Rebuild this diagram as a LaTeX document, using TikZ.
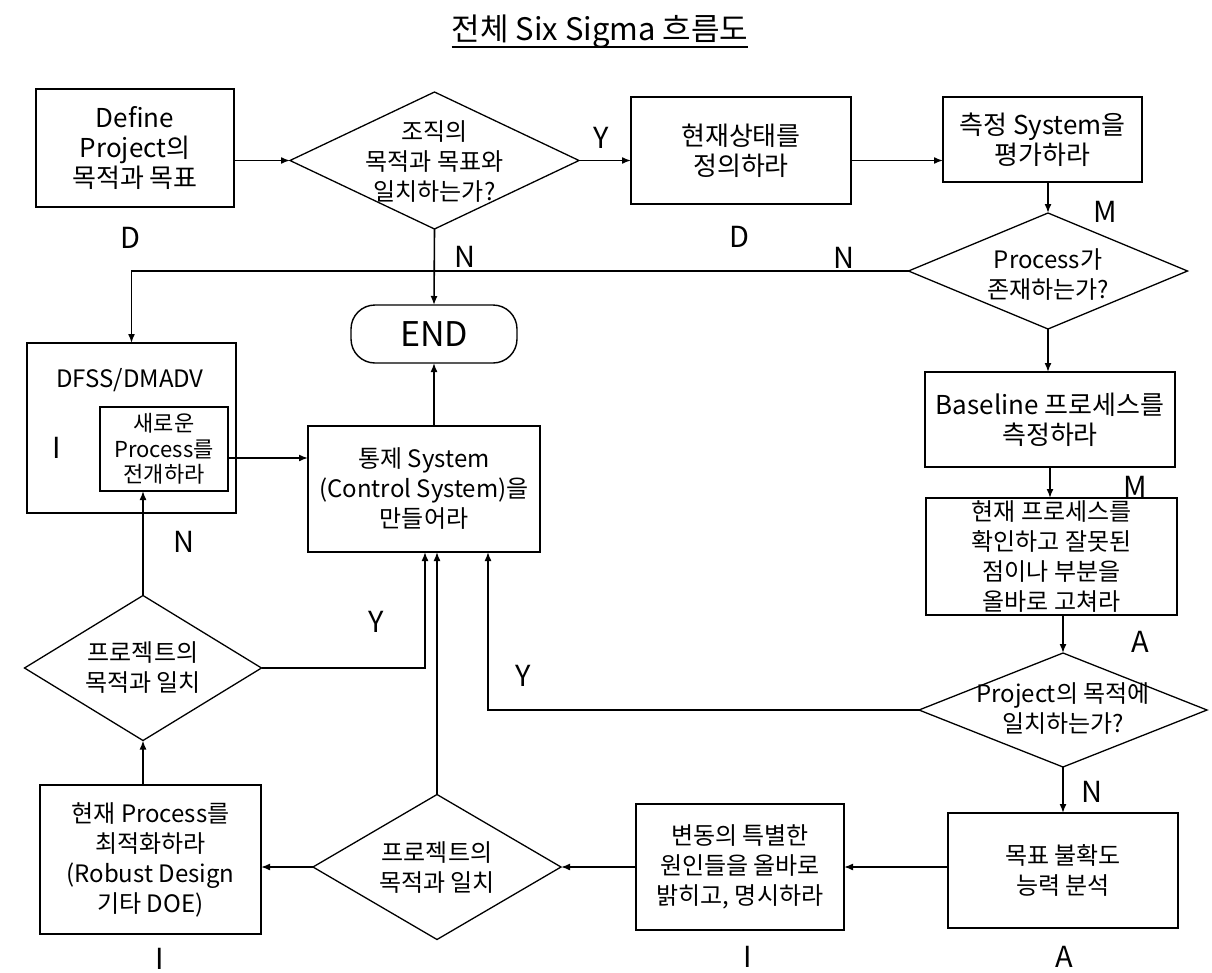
\documentclass[tikz,border=0pt]{standalone}
\usepackage{fontspec}
\setmainfont{Noto Sans CJK KR}
\usetikzlibrary{shapes.geometric,arrows.meta}
\newcommand{\boxfont}{\fontsize{24}{30}\selectfont}
\newcommand{\bigboxfont}{\fontsize{26}{30}\selectfont}
\newcommand{\smallboxfont}{\fontsize{22}{25.5}\selectfont}
\newcommand{\labfont}{\fontsize{29}{30}\selectfont}
\newcommand{\termfont}{\fontsize{34}{36}\selectfont}
\newcommand{\titfont}{\fontsize{31}{34}\selectfont}
\tikzset{
  box/.style={draw, line width=1.6pt, inner sep=0pt, outer sep=0pt, align=center, font=\boxfont},
  dia/.style={draw, diamond, line width=1.3pt, inner sep=0pt, outer sep=0pt},
  txt/.style={align=center, font=\boxfont, inner sep=0pt},
  lbl/.style={font=\labfont, inner sep=0pt},
  arr/.style={line width=1.6pt, -{Latex[length=9pt,width=7pt]}},
  ln/.style={line width=1.6pt}
}
\begin{document}
\begin{tikzpicture}[x=1pt,y=-1pt]
\useasboundingbox (0,0) rectangle (1212,972);
% title
\node[font=\titfont, inner sep=0pt, anchor=base] (title) at (600,40) {전체 Six Sigma 흐름도};
\draw[line width=1.6pt] ([yshift=-7pt]title.base west) -- ([yshift=-7pt]title.base east);
% boxes
\node[box, font=\bigboxfont, minimum width=198pt, minimum height=118pt] (b1) at (135,148) {Define\\Project의\\목적과 목표};
\node[dia, minimum width=289pt, minimum height=137pt] (d1) at (434.5,160.5) {};
\node[txt] (d1t) at (434.5,162) {조직의\\목적과 목표와\\일치하는가?};
\node[box, font=\bigboxfont, minimum width=220pt, minimum height=107pt] (b2) at (741,150.5) {현재상태를\\정의하라};
\node[box, font=\bigboxfont, minimum width=199pt, minimum height=85pt] (b3) at (1042.5,139.5) {측정 System을\\평가하라};
\node[dia, minimum width=279pt, minimum height=116pt] (d2) at (1048,271) {};
\node[txt] (d2t) at (1048,275) {Process가\\존재하는가?};
\node[box, font=\bigboxfont, minimum width=250pt, minimum height=95pt] (b5) at (1050,419.5) {Baseline 프로세스를\\측정하라};
\node[box, minimum width=251pt, minimum height=117pt] (b6) at (1051.5,556.5) {현재 프로세스를\\확인하고 잘못된\\점이나 부분을\\올바로 고쳐라};
\node[dia, minimum width=288pt, minimum height=114pt] (d5) at (1063,710) {};
\node[txt] (d5t) at (1063,709) {Project의 목적에\\일치하는가?};
\node[box, minimum width=230pt, minimum height=115pt] (b8) at (1063,870.5) {목표 불확도\\능력 분석};
\node[box, minimum width=208pt, minimum height=126pt] (b9) at (740,867) {변동의 특별한\\원인들을 올바로\\밝히고, 명시하라};
\node[dia, minimum width=248pt, minimum height=145pt] (d4) at (437,867) {};
\node[txt] (d4t) at (437,867) {프로젝트의\\목적과 일치};
\node[box, minimum width=221pt, minimum height=149pt] (b11) at (150.5,859.5) {현재 Process를\\최적화하라\\(Robust Design\\기타 DOE)};
\node[dia, minimum width=237pt, minimum height=145pt] (d3) at (143,668) {};
\node[txt] (d3t) at (143,668) {프로젝트의\\목적과 일치};
\node[draw, line width=1.6pt, minimum width=209pt, minimum height=170pt, inner sep=0pt, outer sep=0pt] (dfss) at (131.5,428) {};
\node[txt] (dfsst) at (130,380) {DFSS/DMADV};
\node[box, font=\smallboxfont, minimum width=128pt, minimum height=84pt] (inner) at (164,449) {새로운\\Process를\\전개하라};
\node[box, minimum width=232pt, minimum height=126pt] (ctl) at (424,489) {통제 System\\(Control System)을\\만들어라};
\node[draw, line width=1.4pt, rounded corners=24pt, minimum width=166pt, minimum height=58pt, inner sep=0pt, outer sep=0pt, font=\termfont] (endn) at (434,334) {END};
% connectors
\draw[arr] (b1.east |- d1.west) -- (d1.west);
\draw[arr] (d1.east) -- (d1.east -| b2.west);
\draw[arr] (b2.east |- d1.east) -- (d1.east -| b3.west);
\draw[arr] (d2.north |- b3.south) -- (d2.north);
\draw[arr] (d2.west) -| (dfss.north);
\draw[arr] (d1.south) -- (endn.north);
\draw[arr] (d2.south) -- (d2.south |- b5.north);
\draw[arr] (b5.south) -- (b5.south |- b6.north);
\draw[arr] (d5.north |- b6.south) -- (d5.north);
\draw[arr] (d5.south) -- (b8.north);
\draw[arr] (d5.west) -| ([xshift=64pt]ctl.south);
\draw[arr] (b8.west |- b9.east) -- (b9.east);
\draw[arr] (b9.west) -- (d4.east);
\draw[arr] (d4.west) -- (d4.west -| b11.east);
\draw[arr] (d4.north) -- (d4.north |- ctl.south);
\draw[arr] (d3.south |- b11.north) -- (d3.south);
\draw[arr] (d3.east) -| ([xshift=1pt]ctl.south);
\draw[arr] (d3.north) -- (d3.north |- inner.south);
\draw[arr] ([yshift=-9pt]inner.east) -- ([yshift=-9pt]inner.east -| ctl.west);
\draw[arr] (endn.south |- ctl.north) -- (endn.south);
% labels
\node[lbl] (lD1) at (130,238) {D};
\node[lbl] (lD2) at (739,237) {D};
\node[lbl] (lY1) at (601,138) {Y};
\node[lbl] (lN1) at (465,257) {N};
\node[lbl] (lN2) at (844,258) {N};
\node[lbl] (lM1) at (1105,212) {M};
\node[lbl] (lM2) at (1135,487) {M};
\node[lbl] (lA1) at (1140,642) {A};
\node[lbl] (lN3) at (184,542) {N};
\node[lbl] (lI1) at (57,448) {I};
\node[lbl] (lY2) at (376,622) {Y};
\node[lbl] (lY3) at (523,676) {Y};
\node[lbl] (lN4) at (1092,792) {N};
\node[lbl] (lI2) at (748,957) {I};
\node[lbl] (lA2) at (1064,957) {A};
\node[lbl] (lI3) at (160,959) {I};
\end{tikzpicture}
\end{document}
